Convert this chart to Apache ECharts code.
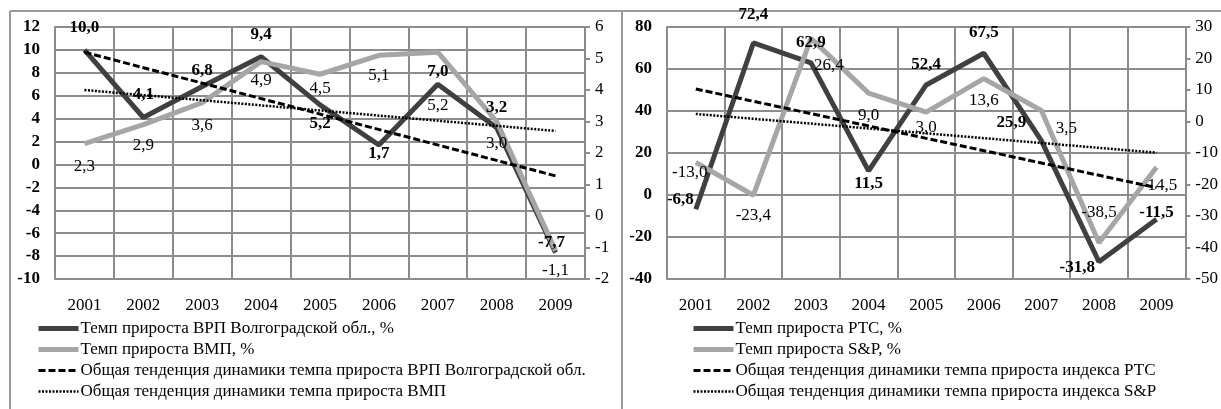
<!DOCTYPE html>
<html><head><meta charset="utf-8">
<script src="https://cdn.jsdelivr.net/npm/echarts@6/dist/echarts.min.js"></script>
<style>html,body{margin:0;padding:0;background:#fff}#c{width:1221px;height:409px}</style>
</head><body><div id="c"></div>
<script>
// ---- data ----
const years = ['2001','2002','2003','2004','2005','2006','2007','2008','2009'];
const vrpVolgograd = [10.0, 4.1, 6.8, 9.4, 5.2, 1.7, 7.0, 3.2, -7.7];
const vmp = [2.3, 2.9, 3.6, 4.9, 4.5, 5.1, 5.2, 3.0, -1.1];
const vrpTrend = [9.8, null, null, null, null, null, null, null, -1.0];
const vmpTrend = [4.0, null, null, null, null, null, null, null, 2.7];
const rts = [-6.8, 72.4, 62.9, 11.5, 52.4, 67.5, 25.9, -31.8, -11.5];
const sp = [-13.0, -23.4, 26.4, 9.0, 3.0, 13.6, 3.5, -38.5, -14.5];
const rtsTrend = [50.5, null, null, null, null, null, null, null, 3.5];
const spTrend = [2.4, null, null, null, null, null, null, null, -9.9];

const namesL = ['Темп прироста ВРП Волгоградской обл., %', 'Темп прироста ВМП, %',
  'Общая тенденция динамики темпа прироста ВРП Волгоградской обл.', 'Общая тенденция динамики темпа прироста ВМП'];
const namesR = ['Темп прироста РТС, %', 'Темп прироста S&P, %',
  'Общая тенденция динамики темпа прироста индекса РТС', 'Общая тенденция динамики темпа прироста индекса S&P'];

// ---- label placement (position, distance, dx, dy) ----
const posVrp = [['top',14],['top',14],['top',7],['top',14],['bottom',10],['bottom',0],['top',4],['top',12],['top',2,-4]];
const posVmp = [['bottom',14],['bottom',12],['bottom',14],['bottom',10],['bottom',6],['bottom',12],['bottom',45],['bottom',14],['bottom',11]];
const posRts = [['left',2,0,-10],['top',20],['top',12],['bottom',4],['top',12],['top',12],['top',10,-30],['left',4,0,6],['top',-2]];
const posSp = [['bottom',2,-6],['bottom',12],['bottom',19,18],['bottom',14],['bottom',7],['bottom',13],['bottom',10,25],['top',22],['bottom',10,3]];

const FONT = '"Liberation Serif","Times New Roman",serif';
const FS = 17;
const GRID = '#8c8c8c';
const DARK = '#404040', LIGHT = '#a6a6a6';
const fmt = v => v.toFixed(1).replace('.', ',');

function items(vals, pos, bold) {
  return vals.map((v, i) => {
    const p = pos[i];
    return {value: v, label: {show: true, position: p[0], distance: p[1], offset: [p[2] || 0, p[3] || 0],
      fontWeight: bold ? 'bold' : 'normal', fontFamily: FONT, fontSize: FS, color: '#000',
      formatter: q => fmt(q.value)}};
  });
}

function mainLine(name, vals, pos, bold, color, xi, yi) {
  return {name, type: 'line', xAxisIndex: xi, yAxisIndex: yi, data: items(vals, pos, bold),
    symbol: 'circle', symbolSize: 0, showSymbol: true, showAllSymbol: true, z: 2,
    lineStyle: {color, width: 5}, itemStyle: {color}, animation: false};
}
function trendLine(name, vals, dash, width, xi, yi) {
  return {name, type: 'line', xAxisIndex: xi, yAxisIndex: yi, data: vals, connectNulls: true,
    symbol: 'none', z: 2, lineStyle: {color: '#000', width, type: dash}, itemStyle: {color: '#000'}, animation: false};
}

function xAx(gi) {
  return {type: 'category', gridIndex: gi, data: years, boundaryGap: true,
    axisLine: {show: true, lineStyle: {color: GRID, width: 2}}, axisTick: {show: false},
    axisLabel: {fontFamily: FONT, fontSize: FS, color: '#000', margin: 18, interval: 0},
    splitLine: {show: true, interval: 0, lineStyle: {color: GRID, width: 2}}};
}
function yLeft(gi, min, max, iv) {
  return {type: 'value', gridIndex: gi, min, max, interval: iv, position: 'left',
    axisLine: {show: true, lineStyle: {color: GRID, width: 2}}, axisTick: {show: false},
    axisLabel: {fontFamily: FONT, fontSize: FS, fontWeight: 'bold', color: '#000', margin: 15},
    splitLine: {show: true, lineStyle: {color: GRID, width: 2}}};
}
function yRight(gi, min, max, iv) {
  return {type: 'value', gridIndex: gi, min, max, interval: iv, position: 'right',
    axisLine: {show: true, lineStyle: {color: GRID, width: 2}},
    axisTick: {show: true, length: 5, lineStyle: {color: GRID, width: 2}},
    axisLabel: {fontFamily: FONT, fontSize: FS, color: '#000', margin: 10},
    splitLine: {show: false}};
}
function legend(names, left) {
  const widths = [5, 5, 3, 2.5];
  return {data: names.map((n, i) => ({name: n, lineStyle: {width: widths[i]}})),
    orient: 'vertical', left, top: 320, itemWidth: 40, itemHeight: 14, itemGap: 4,
    selectedMode: false, padding: 0, itemStyle: {opacity: 0},
    textStyle: {fontFamily: FONT, fontSize: FS, color: '#000', padding: [0, 0, 0, -3]}};
}

const chart = echarts.init(document.getElementById('c'), null, {renderer: 'canvas'});
chart.setOption({
  backgroundColor: '#fff',
  animation: false,
  grid: [
    {left: 55, right: 1221 - 585, top: 27, bottom: 409 - 279},
    {left: 667, right: 1221 - 1188, top: 27, bottom: 409 - 279}
  ],
  xAxis: [xAx(0), xAx(1)],
  yAxis: [yLeft(0, -10, 12, 2), yRight(0, -2, 6, 1), yLeft(1, -40, 80, 20), yRight(1, -50, 30, 10)],
  legend: [legend(namesL, 36), legend(namesR, 691)],
  graphic: [
    {type: 'line', shape: {x1: 10, y1: 11, x2: 1221, y2: 11}, style: {stroke: '#9a9a9a', lineWidth: 2}},
    {type: 'line', shape: {x1: 10, y1: 11, x2: 10, y2: 409}, style: {stroke: '#9a9a9a', lineWidth: 2}},
    {type: 'line', shape: {x1: 622, y1: 11, x2: 622, y2: 409}, style: {stroke: '#9a9a9a', lineWidth: 2}}
  ],
  series: [
    mainLine(namesL[0], vrpVolgograd, posVrp, true, DARK, 0, 0),
    mainLine(namesL[1], vmp, posVmp, false, LIGHT, 0, 1),
    trendLine(namesL[2], vrpTrend, [7, 3], 3, 0, 0),
    trendLine(namesL[3], vmpTrend, [2, 1.5], 2.5, 0, 1),
    mainLine(namesR[0], rts, posRts, true, DARK, 1, 2),
    mainLine(namesR[1], sp, posSp, false, LIGHT, 1, 3),
    trendLine(namesR[2], rtsTrend, [7, 3], 3, 1, 2),
    trendLine(namesR[3], spTrend, [2, 1.5], 2.5, 1, 3)
  ]
});
</script></body></html>
